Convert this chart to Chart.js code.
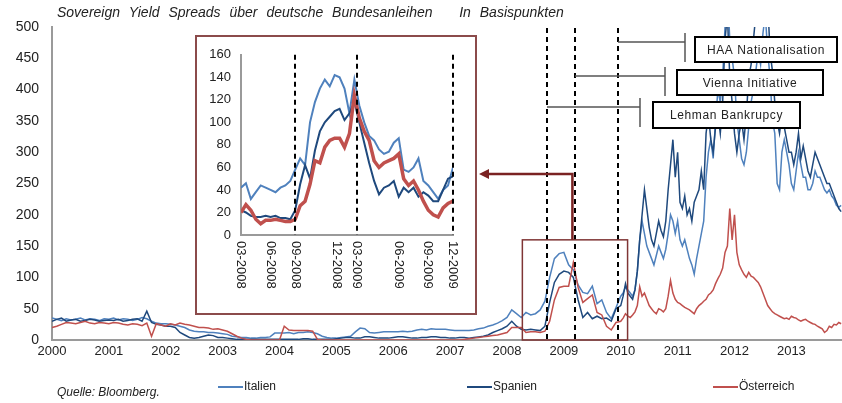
<!DOCTYPE html>
<html>
<head>
<meta charset="utf-8">
<script src="https://cdn.jsdelivr.net/npm/chart.js@4.4.0/dist/chart.umd.min.js"></script>
<style>
  body { margin: 0; background: #fff; }
  #wrap { position: relative; width: 842px; height: 403px; font-family: "Liberation Sans", Arial, sans-serif; color: #222; }
  #main { position: absolute; left: 0; top: 0; }
  #title { position: absolute; left: 57px; top: 4px; font-size: 14px; font-style: italic; word-spacing: 5px; white-space: nowrap; }
  #insetBox { position: absolute; left: 195px; top: 35px; width: 278px; height: 276px; border: 2px solid #8B4B4B; background: #fff; }
  #inset { position: absolute; left: 0; top: 0; }
  .src { position: absolute; left: 57px; top: 385px; font-size: 12px; font-style: italic; }
  .leg { position: absolute; top: 379px; font-size: 12px; white-space: nowrap; }
  .leg i { display: inline-block; width: 25px; height: 2px; vertical-align: middle; margin-right: 1px; }
</style>
</head>
<body>
<div id="wrap">
  <canvas id="main" width="842" height="403"></canvas>
  <div id="title">Sovereign Yield Spreads über deutsche Bundesanleihen &nbsp; In Basispunkten</div>
  <div id="insetBox"><canvas id="inset" width="278" height="276"></canvas></div>
  <div class="src">Quelle: Bloomberg.</div>
  <div class="leg" style="left:218px"><i style="background:#4F81BD"></i>Italien</div>
  <div class="leg" style="left:467px"><i style="background:#1F497D"></i>Spanien</div>
  <div class="leg" style="left:713px"><i style="background:#C0504D"></i>Österreich</div>
</div>
<script>
// monthly values Jan 2000 .. Dec 2009, then half-monthly Jan 2010 .. Nov 2013 (basis points)
var italien0009 = [
  35,33,31,34,32,33,35,32,34,33,31,34,
  33,35,32,34,33,31,33,36,34,30,27,26,
  26,25,24,22,20,16,14,13,13,12,12,11,
  10,9,6,5,4,4,3,3,4,4,5,11,
  11,11,12,10,12,12,13,12,10,6,4,3,
  3,4,5,6,13,19,18,12,11,12,13,13,
  13,13,14,13,14,16,17,16,18,17,17,17,
  16,15,15,15,15,16,18,19,22,24,27,31,
  36,48,42,36,44,40,42,48,62,100,130,138,
  140,120,112,88,76,74,86,58,64,44,34,52
];
var italien1013 = [
  70,75,85,80,75,70,80,110,160,190,170,150,140,130,120,135,150,140,130,145,170,200,190,170,
  190,160,150,160,145,130,120,105,130,150,170,190,260,300,320,290,350,400,380,420,500,560,480,450,
  420,350,320,290,280,300,340,380,400,430,460,440,490,520,460,420,350,330,250,240,300,320,300,280,
  250,240,270,300,280,260,260,240,240,250,270,260,260,250,240,235,240,230,225,215,212,215
];
var spanien0009 = [
  30,33,35,30,32,33,30,31,33,32,30,31,
  32,31,33,30,31,33,34,30,46,28,25,24,
  22,22,20,12,8,4,3,4,6,8,7,4,
  4,3,2,1,1,1,1,1,1,1,1,1,
  1,1,1,1,1,2,2,1,1,1,1,1,
  2,3,4,4,3,3,5,5,4,3,3,3,
  4,5,5,4,3,3,4,4,5,5,4,4,
  3,3,4,4,3,4,5,6,8,12,15,18,
  22,30,22,17,16,17,16,15,22,60,92,105,
  110,108,100,64,36,44,34,38,34,35,30,50
];
var spanien1013 = [
  55,70,90,75,70,65,80,110,160,200,240,210,180,160,150,170,190,175,165,190,240,280,320,260,
  300,220,210,230,200,210,190,220,230,240,270,240,330,360,320,300,340,360,330,380,480,520,420,380,
  330,300,330,350,320,360,420,440,480,520,540,520,580,620,540,460,430,380,350,330,360,340,320,300,
  300,280,300,330,290,310,290,270,260,280,300,290,280,270,260,250,250,240,230,220,210,205
];
var oesterreich0009 = [
  20,22,25,28,27,26,28,30,27,26,28,27,
  26,28,27,25,24,26,25,23,27,6,26,24,
  22,26,24,27,25,24,22,20,20,19,17,18,
  16,14,10,6,3,1,0,0,0,0,0,0,
  0,22,16,15,15,15,15,14,1,0,0,0,
  0,0,0,0,0,0,0,0,0,0,0,0,
  0,0,0,0,0,0,0,0,0,0,0,0,
  0,0,0,1,2,3,4,5,6,7,8,10,
  12,20,20,20,12,13,13,12,14,30,64,84,
  86,86,124,84,60,66,72,44,40,22,16,28
];
var oesterreich1013 = [
  30,35,42,38,36,40,45,55,85,70,75,65,55,50,45,42,50,48,45,50,70,95,75,65,
  60,58,55,52,50,48,45,42,50,55,58,62,65,72,75,80,90,98,105,115,140,150,210,160,
  200,140,120,112,105,100,108,102,100,96,92,85,75,65,55,50,45,42,40,38,36,34,35,33,
  38,36,35,32,30,32,33,30,28,26,25,22,20,18,12,15,22,20,25,24,28,26
];

// half-monthly values Mar 2008 .. Dec 2009 for the inset
var insetStart = 2008.17;
var insetItalien = [42,46,32,38,44,42,40,38,42,44,48,58,68,62,100,118,130,138,132,142,140,130,108,138,115,100,88,84,76,72,74,82,86,58,56,60,68,48,44,38,32,40,44,60];
var insetSpanien = [22,20,17,16,16,17,16,17,15,15,14,22,45,62,50,75,92,100,105,110,112,102,108,118,100,82,64,48,36,42,44,48,34,42,38,42,34,38,35,30,30,40,50,52];
var insetOesterreich = [20,27,22,14,10,13,13,14,13,12,12,14,26,30,45,66,64,78,84,86,86,78,90,124,104,92,84,66,60,64,66,68,72,50,44,48,40,30,22,18,16,24,28,30];
var insetTickPos = [2008.17, 2008.42, 2008.63, 2008.98, 2009.15, 2009.5, 2009.75, 2009.96];
var insetTickLabels = ['03-2008','06-2008','09-2008','12-2008','03-2009','06-2009','09-2009','12-2009'];
var insetEvents = [2008.63, 2009.15, 2009.96];

// events in main chart
var events = [
  { year: 2008.71, label: 'Lehman Bankrupcy', lineY: 107, capX: 640, box: [653, 102, 147, 26] },
  { year: 2009.19, label: 'Vienna Initiative', lineY: 76, capX: 665, box: [677, 70, 146, 25] },
  { year: 2009.96, label: 'HAA Nationalisation', lineY: 42, capX: 685, box: [695, 37, 142, 25] }
];
var zoomX = [2008.27, 2010.12];
var zoomY = [0, 160];

function toPoints(monthly, halfMonthly) {
  var pts = [];
  for (var i = 0; i < monthly.length; i++) pts.push({ x: 2000 + i / 12, y: monthly[i] });
  for (var j = 0; j < halfMonthly.length; j++) pts.push({ x: 2010 + j / 24, y: halfMonthly[j] });
  return pts;
}
function insetPoints(vals) {
  var pts = [];
  for (var i = 0; i < vals.length; i++) pts.push({ x: insetStart + i / 24, y: vals[i] });
  return pts;
}

var mainDecor = {
  id: 'mainDecor',
  afterDatasetsDraw: function(chart) {
    var ctx = chart.ctx, x = chart.scales.x, y = chart.scales.y, a = chart.chartArea;
    ctx.save();
    // event lines
    ctx.strokeStyle = '#000';
    ctx.lineWidth = 2;
    ctx.setLineDash([5, 4]);
    events.forEach(function(e) {
      var px = Math.round(x.getPixelForValue(e.year));
      ctx.beginPath(); ctx.moveTo(px, a.top + 1); ctx.lineTo(px, a.bottom); ctx.stroke();
    });
    ctx.setLineDash([]);
    // brackets and labels
    events.forEach(function(e) {
      var px = Math.round(x.getPixelForValue(e.year));
      ctx.strokeStyle = '#555';
      ctx.lineWidth = 1.5;
      ctx.beginPath(); ctx.moveTo(px, e.lineY); ctx.lineTo(e.capX, e.lineY); ctx.stroke();
      ctx.beginPath(); ctx.moveTo(e.capX, e.lineY - 9); ctx.lineTo(e.capX, e.lineY + 20); ctx.stroke();
      var b = e.box;
      ctx.fillStyle = '#fff';
      ctx.fillRect(b[0], b[1], b[2], b[3]);
      ctx.strokeStyle = '#000';
      ctx.lineWidth = 2;
      ctx.strokeRect(b[0], b[1], b[2], b[3]);
      ctx.fillStyle = '#222';
      ctx.font = '12px "Liberation Sans", Arial, sans-serif';
      ctx.letterSpacing = '0.6px';
      ctx.textAlign = 'center';
      ctx.textBaseline = 'middle';
      ctx.fillText(e.label, b[0] + b[2] / 2, b[1] + b[3] / 2 + 1);
      ctx.letterSpacing = '0px';
    });
    // zoom rectangle
    var rx0 = x.getPixelForValue(zoomX[0]), rx1 = x.getPixelForValue(zoomX[1]);
    var ry0 = y.getPixelForValue(zoomY[1]), ry1 = y.getPixelForValue(zoomY[0]);
    ctx.strokeStyle = '#7F3535';
    ctx.lineWidth = 1.5;
    ctx.strokeRect(rx0, ry0, rx1 - rx0, ry1 - ry0);
    // connector to inset
    var box = document.getElementById('insetBox');
    var endX = box.offsetLeft + box.offsetWidth + 2;
    var cx = x.getPixelForValue(2009.15), cy = y.getPixelForValue(265);
    ctx.strokeStyle = '#7A2222';
    ctx.fillStyle = '#7A2222';
    ctx.lineWidth = 2.5;
    ctx.beginPath(); ctx.moveTo(cx, ry0); ctx.lineTo(cx, cy); ctx.lineTo(endX + 8, cy); ctx.stroke();
    ctx.beginPath(); ctx.moveTo(endX, cy); ctx.lineTo(endX + 10, cy - 5); ctx.lineTo(endX + 10, cy + 5); ctx.closePath(); ctx.fill();
    ctx.restore();
  }
};

new Chart(document.getElementById('main'), {
  type: 'line',
  data: {
    datasets: [
      { label: 'Österreich', data: toPoints(oesterreich0009, oesterreich1013), borderColor: '#C0504D', borderWidth: 1.5, order: 0 },
      { label: 'Spanien', data: toPoints(spanien0009, spanien1013), borderColor: '#1F497D', borderWidth: 1.5, order: 1 },
      { label: 'Italien', data: toPoints(italien0009, italien1013), borderColor: '#4F81BD', borderWidth: 1.5, order: 2 }
    ]
  },
  options: {
    responsive: false,
    animation: false,
    layout: { padding: { top: 27, right: 0, left: 0, bottom: 0 } },
    elements: { point: { radius: 0 }, line: { tension: 0 } },
    plugins: { legend: { display: false }, tooltip: { enabled: false } },
    scales: {
      x: {
        type: 'linear', min: 2000, max: 2013.89,
        afterFit: function(s) { s.height = 63; },
        grid: { display: false, drawTicks: false },
        border: { color: '#9A9A9A', width: 2 },
        ticks: { stepSize: 1, includeBounds: false, padding: 4, color: '#222', font: { size: 13, family: '"Liberation Sans", Arial' }, callback: function(v) { return String(v); }, maxRotation: 0 }
      },
      y: {
        min: 0, max: 500,
        afterFit: function(s) { s.width = 52; },
        grid: { display: false, drawTicks: false },
        border: { color: '#9A9A9A', width: 2 },
        ticks: { stepSize: 50, padding: 13, color: '#222', font: { size: 14, family: '"Liberation Sans", Arial' } }
      }
    }
  },
  plugins: [mainDecor]
});

var insetDecor = {
  id: 'insetDecor',
  afterDatasetsDraw: function(chart) {
    var ctx = chart.ctx, x = chart.scales.x, a = chart.chartArea;
    ctx.save();
    ctx.strokeStyle = '#000';
    ctx.lineWidth = 2;
    ctx.setLineDash([5, 4]);
    insetEvents.forEach(function(v) {
      var px = Math.round(x.getPixelForValue(v));
      ctx.beginPath(); ctx.moveTo(px, a.top); ctx.lineTo(px, a.bottom); ctx.stroke();
    });
    ctx.setLineDash([]);
    ctx.fillStyle = '#222';
    ctx.font = '13px "Liberation Sans", Arial, sans-serif';
    ctx.textAlign = 'left';
    ctx.textBaseline = 'middle';
    insetTickPos.forEach(function(v, i) {
      var px = x.getPixelForValue(v);
      ctx.save();
      ctx.translate(px, a.bottom + 6);
      ctx.rotate(Math.PI / 2);
      ctx.fillText(insetTickLabels[i], 0, 0);
      ctx.restore();
    });
    ctx.restore();
  }
};

new Chart(document.getElementById('inset'), {
  type: 'line',
  data: {
    datasets: [
      { label: 'Österreich', data: insetPoints(insetOesterreich), borderColor: '#C0504D', borderWidth: 3.5, order: 0 },
      { label: 'Spanien', data: insetPoints(insetSpanien), borderColor: '#1F497D', borderWidth: 2, order: 1 },
      { label: 'Italien', data: insetPoints(insetItalien), borderColor: '#4F81BD', borderWidth: 2, order: 2 }
    ]
  },
  options: {
    responsive: false,
    animation: false,
    layout: { padding: { top: 14, right: 22, left: 0, bottom: 0 } },
    elements: { point: { radius: 0 }, line: { tension: 0 } },
    plugins: { legend: { display: false }, tooltip: { enabled: false } },
    scales: {
      x: {
        type: 'linear', min: insetStart, max: 2009.962,
        afterFit: function(s) { s.height = 78; },
        grid: { display: false, drawTicks: false },
        border: { color: '#9A9A9A', width: 2 },
        ticks: { display: false }
      },
      y: {
        min: 0, max: 160,
        afterFit: function(s) { s.width = 44; },
        grid: { display: false, drawTicks: false },
        border: { color: '#9A9A9A', width: 2 },
        ticks: { stepSize: 20, padding: 10, color: '#222', font: { size: 13, family: '"Liberation Sans", Arial' } }
      }
    }
  },
  plugins: [insetDecor]
});
</script>
</body>
</html>
